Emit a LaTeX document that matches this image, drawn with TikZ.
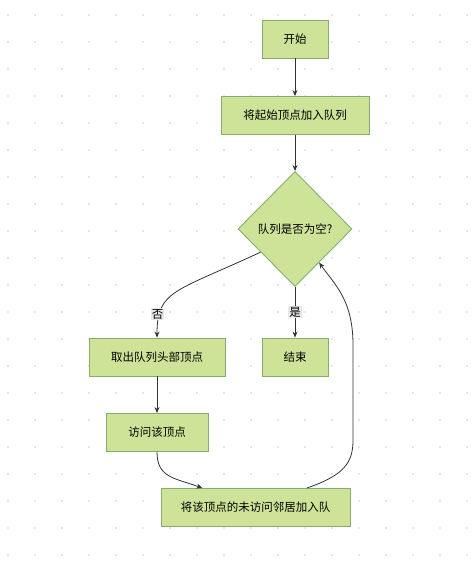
\documentclass[tikz,border=0pt]{standalone}
\usepackage{fontspec}
\newfontfamily\cjk{Noto Sans CJK SC}
\usepackage{xcolor}
\usetikzlibrary{shapes.geometric,arrows.meta,calc}

\definecolor{boxfill}{HTML}{CDE498}
\definecolor{boxline}{HTML}{86AC6F}
\definecolor{edgec}{HTML}{333333}
\definecolor{dotc}{HTML}{E6E6E6}
\definecolor{lblbg}{HTML}{E8E8E8}

\begin{document}
\begin{tikzpicture}[
  x=1pt, y=-1pt,
  box/.style={
    draw=boxline, fill=boxfill, line width=0.9pt, rectangle,
    minimum height=38pt, inner sep=0pt,
    font=\cjk\fontsize{11.5}{14}\selectfont, align=center
  },
  decision/.style={
    draw=boxline, fill=boxfill, line width=0.9pt, diamond,
    minimum width=114pt, minimum height=115pt, inner sep=0pt,
    font=\cjk\fontsize{11.5}{14}\selectfont
  },
  lbl/.style={fill=lblbg, inner sep=1pt, font=\cjk\fontsize{11.5}{14}\selectfont},
  arr/.style={-{Stealth[length=6pt,width=5pt]}, draw=edgec, line width=0.8pt},
]

\useasboundingbox (0,0) rectangle (471,569);

% background dots
\foreach \x in {8,35,...,470}
  \foreach \y in {17,44,...,569}
    \fill[dotc] (\x-1,\y-1) rectangle ++(2.2,-2.2);

\node[box, minimum width=66pt]  (start) at (295,39)    {开始};
\node[box, minimum width=148pt] (init)  at (295,115.5) {将起始顶点加入队列};
\node[decision]                 (empty) at (295,229)   {队列是否为空?};
\node[box, minimum width=136pt] (deq)   at (157,357)   {取出队列头部顶点};
\node[box, minimum width=66pt]  (stop)  at (295,357)   {结束};
\node[box, minimum width=102pt] (visit) at (157,432.5) {访问该顶点};
\node[box, minimum width=189pt] (push)  at (255.5,507.5) {将该顶点的未访问邻居加入队};

\coordinate (nofrom) at ($(empty.west)!0.4!(empty.south)$);
\coordinate (backto) at ($(empty.south)!0.42!(empty.east)$);
\coordinate (pushin) at ($(push.north west)!0.22!(push.north east)$);
\coordinate (pushout) at ($(push.north west)!0.77!(push.north east)$);

\draw[arr] (start) -- (init);
\draw[arr] (init) -- (empty);
\draw[arr] (empty.south) -- node[lbl] {是} (stop);
\draw[arr] (nofrom) .. controls (175,292) and (157,290) .. node[lbl, pos=0.8, xshift=-2pt] {否} (deq.north);
\draw[arr] (deq) -- (visit);
\draw[arr] (visit.south) .. controls (157,478) and (175,478) .. (pushin);
\draw[arr] (pushout) .. controls (345,475) and (353,462) .. (353,440)
  -- (353,345) .. controls (353,300) and (335,285) .. (backto);

\end{tikzpicture}
\end{document}
